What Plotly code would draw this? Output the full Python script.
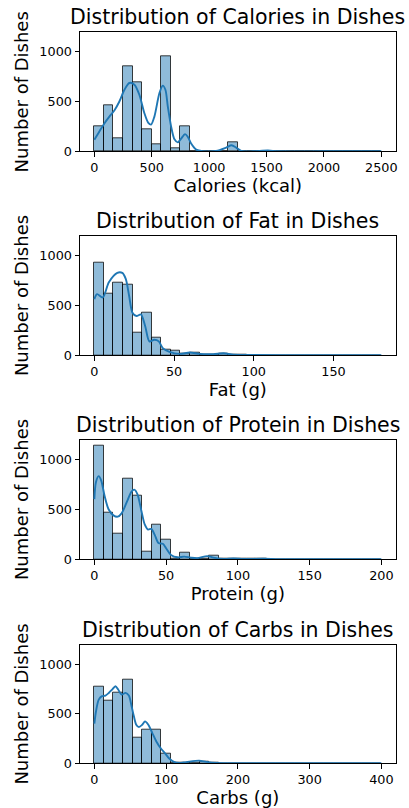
import numpy as np
import plotly.graph_objects as go
from plotly.subplots import make_subplots

# ---------------- data ----------------
titles = ["Distribution of Calories in Dishes", "Distribution of Fat in Dishes",
          "Distribution of Protein in Dishes", "Distribution of Carbs in Dishes"]
x_labels = ["Calories (kcal)", "Fat (g)", "Protein (g)", "Carbs (g)"]
y_label = "Number of Dishes"

# histogram ranges (30 bins each, from 0 to max value)
value_max = [2500, 180, 200, 400]
n_bins = 30

calorie_counts = [256, 459, 128, 854, 689, 216, 71, 952, 30, 253,
                  4, 0, 0, 0, 87, 0, 0, 0, 5, 0,
                  0, 0, 0, 0, 0, 0, 0, 0, 0, 2]
fat_counts = [922, 620, 726, 709, 226, 430, 178, 52, 49, 14,
              30, 8, 5, 20, 3, 2, 1, 0, 0, 0,
              0, 0, 0, 0, 0, 1, 0, 0, 0, 1]
protein_counts = [1138, 463, 260, 801, 639, 71, 345, 193, 3, 61,
                  5, 8, 40, 5, 3, 10, 2, 3, 1, 0,
                  0, 0, 0, 0, 0, 0, 0, 0, 0, 1]
carbs_counts = [772, 630, 707, 843, 258, 337, 337, 100, 5, 3,
                8, 17, 3, 1, 0, 0, 0, 0, 0, 0,
                0, 0, 0, 0, 0, 0, 0, 0, 0, 1]

# KDE curves (scaled to counts)
calorie_kde_x = [0, 44, 87, 131, 174, 218, 262, 305, 349, 392, 436, 470, 494, 523, 567, 596,
                 619, 640, 669, 698, 727, 756, 790, 814, 843, 887, 945, 1061, 1148, 1195,
                 1235, 1279, 1381, 1512, 1599, 2000, 2450, 2500]
calorie_kde_y = [115, 199, 280, 348, 409, 500, 618, 686, 669, 568, 382, 285, 268, 348, 585, 659,
                 618, 449, 247, 120, 90, 128, 172, 145, 78, 17, 2, 3, 37, 60,
                 37, 3, 0, 8, 0, 0, 1, 1]

fat_kde_x = [0, 1.7, 5.3, 9.1, 14.4, 17.5, 19.7, 21.8, 23.9, 26.4, 29.2, 31.9, 34.5, 37.6,
             40.4, 42.9, 47.1, 53.5, 59.8, 66.2, 74.6, 81, 87.3, 100, 130, 180]
fat_kde_y = [561, 611, 578, 730, 824, 824, 764, 595, 426, 392, 409, 290, 139, 155,
             139, 71, 34, 14, 28, 14, 12, 20, 7, 3, 2, 2]

protein_kde_x = [0, 1.1, 3, 4.8, 7.1, 9.9, 13.3, 16.3, 19, 22.5, 25.9, 27.8, 30, 32.8, 35.1,
                 37.4, 39.7, 42, 44.7, 47.7, 50, 53.4, 58, 62.6, 67.2, 71.8, 78.7, 83,
                 90, 97, 104, 117.7, 129, 160, 200]
protein_kde_y = [601, 770, 831, 787, 635, 500, 439, 426, 459, 568, 676, 696, 652, 483, 348,
                 297, 304, 247, 162, 155, 111, 44, 20, 27, 17, 12, 32, 17,
                 4, 9, 3, 6, 1, 1, 1]

carbs_kde_x = [0, 2.3, 6.1, 10.7, 15.4, 20.1, 24.8, 29.4, 33.2, 37.9, 43.5, 48.1, 51.9,
               55.1, 58.4, 62.1, 66.8, 70.6, 75.2, 80.8, 86.4, 92.5, 98.6, 104, 111, 118,
               128, 146, 156, 170, 250, 400]
carbs_kde_y = [399, 524, 642, 676, 682, 709, 743, 777, 743, 693, 709, 682, 574,
               473, 389, 365, 389, 422, 389, 304, 220, 152, 101, 51, 14, 3,
               12, 27, 14, 3, 2, 2]

x_ticks = [[0, 500, 1000, 1500, 2000, 2500], [0, 50, 100, 150],
           [0, 50, 100, 150, 200], [0, 100, 200, 300, 400]]
y_ticks = [0, 500, 1000]

counts_all = [calorie_counts, fat_counts, protein_counts, carbs_counts]
kde_all = [(calorie_kde_x, calorie_kde_y), (fat_kde_x, fat_kde_y),
           (protein_kde_x, protein_kde_y), (carbs_kde_x, carbs_kde_y)]

# ---------------- figure ----------------
W, H = 409, 808
FONT = "DejaVu Sans"
BAR_FILL = "rgba(31,119,180,0.5)"
BAR_EDGE = "rgba(0,0,0,0.75)"
LINE = "#1f77b4"

# axes boxes in pixels (top, bottom)
ax_left, ax_right = 80.0, 395.7
ax_rows = [(32.3, 151.3), (235.7, 355.3), (439.7, 559.3), (644.7, 763.3)]

fig = make_subplots(rows=4, cols=1)

y_top = max(max(c) for c in counts_all) * 1.05

for i in range(4):
    r = i + 1
    edges = np.linspace(0, value_max[i], n_bins + 1)
    centers = (edges[:-1] + edges[1:]) / 2
    width = edges[1] - edges[0]
    fig.add_trace(go.Bar(x=centers, y=counts_all[i], width=width,
                         marker=dict(color=BAR_FILL, line=dict(color=BAR_EDGE, width=1)),
                         showlegend=False, hoverinfo="skip"), row=r, col=1)
    kx, ky = kde_all[i]
    fig.add_trace(go.Scatter(x=kx, y=ky, mode="lines", line=dict(color=LINE, width=1.9, shape="spline", smoothing=0.8),
                             showlegend=False, hoverinfo="skip"), row=r, col=1)

    top, bot = ax_rows[i]
    dom_y = [1 - bot / H, 1 - top / H]
    pad = value_max[i] * 0.05
    xa = "xaxis" if i == 0 else f"xaxis{r}"
    ya = "yaxis" if i == 0 else f"yaxis{r}"
    fig.layout[xa].update(domain=[ax_left / W, ax_right / W], range=[-pad, value_max[i] + pad],
                          tickvals=x_ticks[i], ticks="outside", ticklen=4.5, tickwidth=1, tickcolor="black",
                          showline=True, linecolor="black", linewidth=1, mirror=True,
                          showgrid=False, zeroline=False, automargin=False,
                          tickfont=dict(family=FONT, size=12.8, color="black"),
                          title=dict(text=x_labels[i], font=dict(family=FONT, size=18, color="black"), standoff=4))
    fig.layout[ya].update(domain=dom_y, range=[0, y_top],
                          tickvals=y_ticks, ticks="outside", ticklen=4.5, tickwidth=1, tickcolor="black",
                          showline=True, linecolor="black", linewidth=1, mirror=True,
                          showgrid=False, zeroline=False, automargin=False,
                          tickfont=dict(family=FONT, size=12.8, color="black"),
                          title=dict(text=y_label, font=dict(family=FONT, size=18, color="black"), standoff=6))
    fig.add_annotation(text=titles[i], xref="paper", yref="paper",
                       x=(ax_left + ax_right) / 2 / W, y=dom_y[1], xanchor="center", yanchor="bottom",
                       yshift=1, showarrow=False, font=dict(family=FONT, size=20.5, color="black"))

fig.update_layout(width=W, height=H, margin=dict(l=0, r=0, t=0, b=0),
                  plot_bgcolor="white", paper_bgcolor="white", bargap=0)

fig.write_html("out.html", config={"displayModeBar": False},
               post_script="document.body.style.margin='0';document.body.style.overflow='hidden';")
